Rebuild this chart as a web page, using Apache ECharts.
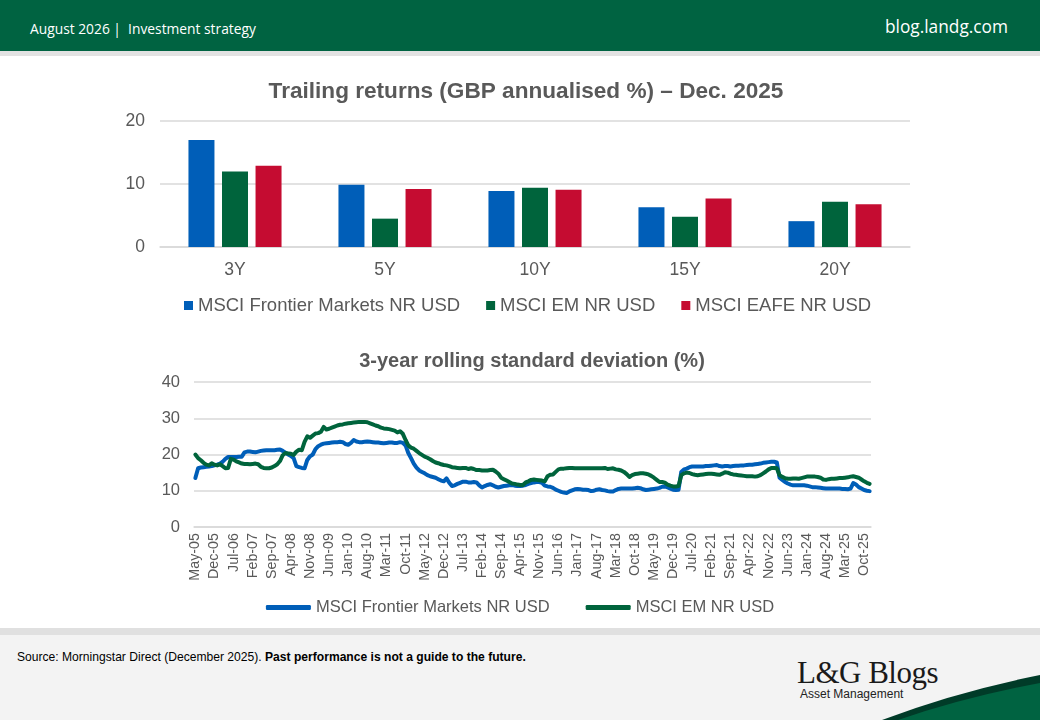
<!DOCTYPE html>
<html><head><meta charset="utf-8">
<script src="https://cdn.jsdelivr.net/npm/echarts@6/dist/echarts.min.js"></script>
<style>
html,body{margin:0;padding:0;width:1040px;height:720px;overflow:hidden;background:#fff;font-family:"Liberation Sans",Arial,sans-serif;}
#hdr{position:absolute;left:0;top:0;width:1040px;height:51px;background:#006341;}
#hdrline{position:absolute;left:0;top:51px;width:1040px;height:5px;background:#e2e2e2;}
#hdrL{position:absolute;left:30px;top:19px;color:#fff;font-family:"Open Sans",sans-serif;font-size:13.8px;}
#hdrR{position:absolute;right:32px;top:15px;color:#fff;font-family:"Open Sans",sans-serif;font-size:17.3px;}
#ftrline{position:absolute;left:0;top:628px;width:1040px;height:7px;background:#e0e0e0;}
#ftr{position:absolute;left:0;top:635px;width:1040px;height:85px;background:#f3f3f3;}
#src{position:absolute;left:17px;top:650px;font-size:12.1px;color:#000;}
#logo{position:absolute;left:797px;top:655px;font-family:"Liberation Serif","DejaVu Serif",serif;font-size:31px;color:#1a1a1a;letter-spacing:-0.5px;}
#logo2{position:absolute;left:800px;top:687px;font-size:12px;color:#222;}
#chart{position:absolute;left:0;top:0;width:1040px;height:720px;}
</style></head>
<body>
<div id="hdr"></div><div id="hdrline"></div>
<div id="hdrL">August 2026 |&nbsp; Investment strategy</div>
<div id="hdrR">blog.landg.com</div>
<div id="ftrline"></div><div id="ftr"></div>
<div id="src">Source: Morningstar Direct (December 2025). <b>Past performance is not a guide to the future.</b></div>
<div id="logo">L&amp;G Blogs</div>
<div id="logo2">Asset Management</div>
<svg style="position:absolute;left:0;top:0" width="1040" height="720">
<path d="M882 720 Q955 692 1040 675 L1040 720 Z" fill="#003b28"/>
<path d="M898 720 Q965 697 1040 683 L1040 720 Z" fill="#006341"/>
</svg>
<div id="chart"></div>
<script>
// ---- Top chart data: trailing returns (GBP annualised %) ----
const periods = ['3Y', '5Y', '10Y', '15Y', '20Y'];
const frontierReturns = [17.0, 9.9, 8.9, 6.3, 4.1];
const emReturns = [12.0, 4.5, 9.4, 4.8, 7.2];
const eafeReturns = [12.9, 9.2, 9.1, 7.7, 6.8];

// ---- Bottom chart data: 3-year rolling std dev (%), monthly May-05 .. Dec-25 ----
const monthNames = ['Jan','Feb','Mar','Apr','May','Jun','Jul','Aug','Sep','Oct','Nov','Dec'];
const frontierStd = [
 13.5,16.2,16.4,16.5,16.6,16.7,16.8,17.0,17.2,17.5,18.0,18.8,
 19.3,19.3,19.3,19.3,19.4,19.4,20.6,20.8,20.8,20.7,20.6,20.8,
 21.0,21.1,21.2,21.2,21.2,21.2,21.3,21.4,21.0,20.5,20.0,19.6,
 19.0,16.8,16.5,16.3,16.2,18.5,19.5,20.0,21.5,22.3,22.7,23.0,
 23.1,23.2,23.3,23.4,23.4,23.5,23.4,22.9,22.7,23.2,24.0,23.6,
 23.4,23.4,23.5,23.6,23.5,23.4,23.3,23.3,23.2,23.1,23.2,23.3,
 23.3,23.2,23.2,23.4,23.2,22.5,20.4,19.0,17.5,16.4,15.6,15.2,
 14.8,14.3,14.0,13.8,13.6,13.2,12.8,12.6,13.4,12.2,11.3,11.5,
 11.9,12.2,12.5,12.5,12.3,12.3,12.4,12.3,11.5,10.9,11.3,11.6,
 11.8,11.5,11.1,10.9,11.1,11.3,11.4,11.5,11.6,11.4,11.3,11.3,
 11.4,11.6,11.9,12.1,12.3,12.4,12.4,12.2,11.4,11.2,11.1,10.8,
 10.3,10.0,9.7,9.5,9.4,9.8,10.1,10.4,10.5,10.4,10.3,10.3,
 10.2,9.9,10.0,10.3,10.4,10.2,10.1,9.9,9.8,9.8,10.2,10.5,
 10.6,10.6,10.6,10.6,10.6,10.7,10.8,10.7,10.4,10.2,10.3,10.4,
 10.5,10.6,10.8,11.1,11.2,10.9,10.6,10.3,10.2,10.3,15.2,15.9,
 16.1,16.5,16.7,16.7,16.7,16.7,16.7,16.8,16.8,16.9,17.0,17.1,
 16.8,16.7,16.8,16.8,16.7,16.8,16.9,16.9,17.0,17.0,17.1,17.2,
 17.2,17.3,17.4,17.5,17.7,17.8,17.9,18.0,18.0,17.8,13.6,13.0,
 12.4,12.0,11.7,11.5,11.5,11.5,11.5,11.5,11.4,11.2,11.0,11.0,
 10.9,10.8,10.7,10.6,10.6,10.6,10.6,10.6,10.6,10.5,10.5,10.4,
 10.6,12.1,11.7,11.0,10.6,10.2,10.0,9.9
];
const emStd = [
 20.0,19.0,18.4,17.7,17.2,17.0,17.6,17.2,17.0,17.3,16.8,16.2,
 16.3,18.8,18.6,18.1,17.8,17.5,17.4,17.4,17.3,17.4,17.5,17.3,
 16.6,16.3,16.2,16.2,16.4,16.8,17.3,18.2,19.8,20.4,20.3,20.2,
 19.9,20.8,21.3,21.2,23.5,25.0,24.6,25.2,25.8,25.9,26.3,27.6,
 26.9,27.1,27.4,27.7,28.0,28.2,28.3,28.5,28.6,28.7,28.8,28.9,
 29.0,29.0,29.0,28.9,28.6,28.3,28.0,27.8,27.4,27.2,27.1,27.0,
 26.8,26.6,26.1,26.4,25.7,24.0,22.5,21.9,21.6,21.0,20.4,19.9,
 19.4,19.1,18.7,18.2,17.8,17.6,17.3,17.1,17.0,16.8,16.5,16.4,
 16.3,16.2,16.3,16.3,16.0,16.2,16.0,15.7,15.7,15.6,15.6,15.6,
 15.7,15.8,15.3,14.7,13.6,13.2,12.8,12.4,12.0,11.9,11.7,11.6,
 11.6,12.3,12.6,13.0,13.1,13.0,12.9,12.8,12.6,14.0,14.4,14.5,
 15.2,15.9,16.1,16.1,16.2,16.3,16.3,16.2,16.2,16.2,16.2,16.2,
 16.2,16.2,16.2,16.2,16.2,16.2,16.3,16.0,16.1,16.2,15.9,15.8,
 15.6,15.2,14.6,13.8,14.3,14.6,14.7,14.8,14.8,14.7,14.5,14.1,
 13.6,13.0,12.4,12.4,12.2,11.7,11.4,11.2,11.2,11.3,14.3,14.8,
 15.0,14.9,14.6,14.4,14.3,14.4,14.5,14.6,14.7,14.7,14.6,14.5,
 14.4,14.7,15.1,15.0,14.7,14.5,14.4,14.3,14.2,14.1,14.0,14.0,
 14.0,13.9,14.0,14.3,14.8,15.3,15.9,16.3,16.3,16.2,14.3,13.8,
 13.5,13.3,13.3,13.4,13.4,13.3,13.5,13.7,13.9,13.9,13.9,13.9,
 13.8,13.6,13.1,13.0,13.2,13.3,13.3,13.4,13.5,13.5,13.6,13.7,
 13.9,14.0,13.8,13.6,13.1,12.6,12.2,11.9
];
const startYear = 2005, startMonth = 4; // May 2005
const months = frontierStd.map((_, i) => {
  const m = startMonth + i;
  const y = startYear + Math.floor(m / 12);
  return monthNames[m % 12] + '-' + String(y % 100).padStart(2, '0');
});

const C_BLUE = '#005EB8', C_GREEN = '#00643C', C_RED = '#C50C31';
const GRAY = '#595959', GRID = '#d9d9d9';
const NAMES = ['MSCI Frontier Markets NR USD', 'MSCI EM NR USD', 'MSCI EAFE NR USD'];

const chart = echarts.init(document.getElementById('chart'), null, {renderer: 'canvas'});
chart.setOption({
  animation: false,
  backgroundColor: 'transparent',
  textStyle: {fontFamily: '"Liberation Sans", Arial, sans-serif'},
  title: [
    {text: 'Trailing returns (GBP annualised %) – Dec. 2025', left: 521, top: 75, textAlign: 'center',
     textStyle: {fontSize: 22.6, fontWeight: 'bold', color: GRAY}},
    {text: '3-year rolling standard deviation (%)', left: 527, top: 346, textAlign: 'center',
     textStyle: {fontSize: 20, fontWeight: 'bold', color: GRAY}}
  ],
  legend: [
    {top: 291, left: 179, icon: 'rect', itemWidth: 9, itemHeight: 9, itemGap: 26,
     textStyle: {fontSize: 18.5, color: GRAY}, data: NAMES.slice()},
    {top: 594, left: 'center', itemWidth: 45, itemHeight: 5, itemGap: 36,
     textStyle: {fontSize: 16.5, color: GRAY},
     data: [
       {name: NAMES[0], icon: 'roundRect', itemStyle: {color: C_BLUE}},
       {name: NAMES[1], icon: 'roundRect', itemStyle: {color: C_GREEN}}
     ]}
  ],
  grid: [
    {left: 160, right: 130, top: 121, bottom: 473},
    {left: 194, right: 169, top: 382, bottom: 193}
  ],
  xAxis: [
    {type: 'category', gridIndex: 0, data: periods,
     axisLine: {lineStyle: {color: GRID, width: 1.5}}, axisTick: {show: false},
     axisLabel: {fontSize: 17.5, color: GRAY, margin: 14}},
    {type: 'category', gridIndex: 1, data: months, boundaryGap: true,
     axisLine: {lineStyle: {color: GRID, width: 1.5}}, axisTick: {show: false},
     axisLabel: {fontSize: 14.3, color: GRAY, rotate: 90, interval: 6, margin: 6}}
  ],
  yAxis: [
    {type: 'value', gridIndex: 0, min: 0, max: 20, interval: 10,
     axisLabel: {fontSize: 17.5, color: GRAY, margin: 15},
     splitLine: {lineStyle: {color: GRID, width: 1.5}}},
    {type: 'value', gridIndex: 1, min: 0, max: 40, interval: 10,
     axisLabel: {fontSize: 16.5, color: GRAY, margin: 14},
     splitLine: {lineStyle: {color: GRID, width: 1.5}}}
  ],
  series: [
    {name: NAMES[0], type: 'bar', xAxisIndex: 0, yAxisIndex: 0, data: frontierReturns,
     barWidth: 26, barGap: '29%', itemStyle: {color: C_BLUE}},
    {name: NAMES[1], type: 'bar', xAxisIndex: 0, yAxisIndex: 0, data: emReturns,
     barWidth: 26, barGap: '29%', itemStyle: {color: C_GREEN}},
    {name: NAMES[2], type: 'bar', xAxisIndex: 0, yAxisIndex: 0, data: eafeReturns,
     barWidth: 26, barGap: '29%', itemStyle: {color: C_RED}},
    {name: NAMES[0], type: 'line', xAxisIndex: 1, yAxisIndex: 1, data: frontierStd,
     showSymbol: false, symbol: 'none', lineStyle: {width: 4, color: C_BLUE, cap: 'round', join: 'round'},
     itemStyle: {color: C_BLUE}},
    {name: NAMES[1], type: 'line', xAxisIndex: 1, yAxisIndex: 1, data: emStd,
     showSymbol: false, symbol: 'none', lineStyle: {width: 4, color: C_GREEN, cap: 'round', join: 'round'},
     itemStyle: {color: C_GREEN}}
  ]
});
</script>
</body></html>
